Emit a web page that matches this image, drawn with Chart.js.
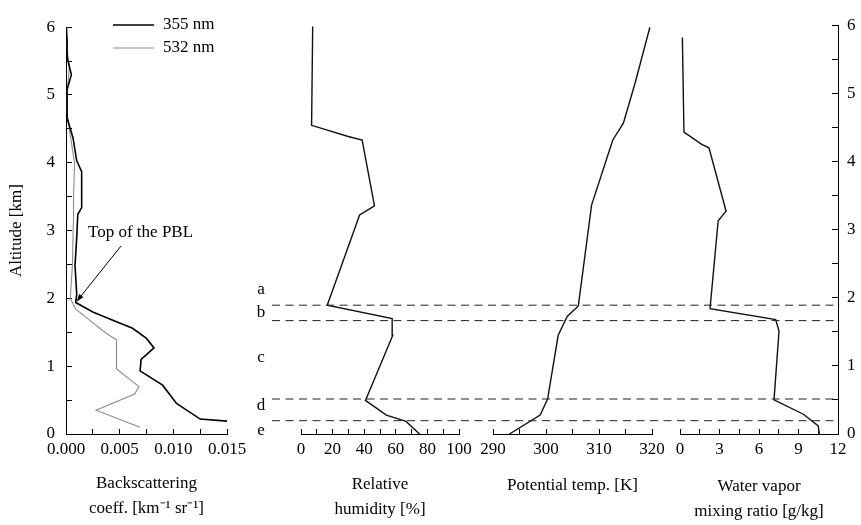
<!DOCTYPE html>
<html>
<head>
<meta charset="utf-8">
<title>Lidar and radiosonde profiles</title>
<script src="https://cdn.jsdelivr.net/npm/chart.js@4.4.1/dist/chart.umd.min.js"></script>
<style>
    body { margin: 0; background: #fff; }
    #wrap { position: relative; width: 861px; height: 525px; }
    #wrap canvas { position: absolute; left: 0; top: 0; }
</style>
</head>
<body>
<div id="wrap">
    <canvas id="bscChart" width="861" height="525"></canvas>
    <canvas id="rhChart" width="861" height="525"></canvas>
    <canvas id="ptChart" width="861" height="525"></canvas>
    <canvas id="wvChart" width="861" height="525"></canvas>
    <canvas id="layerChart" width="861" height="525"></canvas>
</div>
<script>
// Backscattering coefficient profiles (km^-1 sr^-1) vs altitude (km)
const bsc355Alt = [0.19, 0.22, 0.45, 0.72, 0.93, 1.1, 1.27, 1.41, 1.56, 1.68, 1.8, 1.94, 2.06, 2.49, 2.87, 3.24, 3.34, 3.87, 4.03, 4.37, 4.66, 4.9, 5.08, 5.3, 5.56, 5.8, 6.0];
const bsc355 = [0.015, 0.0125, 0.0103, 0.009, 0.0069, 0.007, 0.0082, 0.0075, 0.0062, 0.0043, 0.0025, 0.0009, 0.001, 0.00084, 0.00099, 0.0011, 0.00146, 0.00146, 0.001, 0.00065, 0.0001, 0.0001, 0.0001, 0.0005, 0.0001, 0.0001, 0.0];
const bsc532Alt = [0.1, 0.35, 0.59, 0.7, 0.96, 1.39, 1.49, 1.68, 1.84, 2.0, 2.5, 3.1, 3.5, 4.0, 4.4, 4.75, 5.0, 5.4, 5.7, 6.0];
const bsc532 = [0.0069, 0.0028, 0.0064, 0.0068, 0.0047, 0.0047, 0.0037, 0.0022, 0.0009, 0.0004, 0.0006, 0.00068, 0.0007, 0.0008, 0.0004, 0.0001, 0.0001, 0.0003, 0.0001, 0.0001];

// Radiosonde profiles
const rhAlt = [0, 0.18, 0.27, 0.48, 1.41, 1.65, 1.84, 3.13, 3.26, 4.2, 4.25, 4.41, 5.82];
const rh = [75, 66.5, 54, 40.8, 58.1, 57.7, 16.6, 37.1, 46.5, 38.7, 29.9, 6.7, 7.4];
const ptAlt = [0, 0.27, 0.5, 1.41, 1.68, 1.83, 3.27, 4.2, 4.44, 5.01, 5.81];
const pt = [293.1, 298.9, 300.3, 302.3, 304.0, 306.1, 308.6, 312.6, 314.6, 316.8, 319.6];
const wvAlt = [0, 0.12, 0.29, 0.5, 1.51, 1.68, 1.84, 3.13, 3.27, 4.2, 4.25, 4.43, 5.82];
const wv = [10.58, 10.5, 9.37, 7.14, 7.52, 7.27, 2.28, 2.9, 3.5, 2.2, 1.65, 0.3, 0.18];

// Layer boundaries (km) and layer names
const layerBounds = [1.84, 1.62, 0.5, 0.19];
const layerNames = ['a', 'b', 'c', 'd', 'e'];
const layerLabelAlt = [2.07, 1.74, 1.09, 0.4, 0.05];

const pblIndex = 11; // 355 nm point marked as top of the PBL

const FONT = '"Liberation Serif", "Times New Roman", serif';
const INK = '#000';

function toPoints(values, alts) {
    return values.map((v, i) => ({ x: v, y: alts[i] }));
}

function nearMultiple(v, step) {
    return Math.abs(v / step - Math.round(v / step)) < 1e-6;
}

function xAxis(min, max, step, labelStep, digits, title, titleBottom) {
    return {
        type: 'linear',
        min: min,
        max: max,
        afterFit: s => { s.height = 91; },
        border: { display: true, color: INK, width: 1 },
        grid: { drawOnChartArea: false, tickLength: -5, color: INK, lineWidth: 1 },
        ticks: {
            stepSize: step,
            autoSkip: false,
            maxRotation: 0,
            minRotation: 0,
            padding: 10,
            color: INK,
            font: { family: FONT, size: 17 },
            callback: v => nearMultiple(v, labelStep) ? v.toFixed(digits) : ''
        },
        title: {
            display: true,
            text: title,
            color: INK,
            font: { family: FONT, size: 17, lineHeight: '25px' },
            padding: { top: 0, bottom: titleBottom }
        }
    };
}

function yAxis(show, position, width, padding) {
    return {
        type: 'linear',
        display: show,
        position: position,
        min: 0,
        max: 6,
        afterFit: s => { s.width = width; },
        border: { display: true, color: INK, width: 1 },
        grid: { drawOnChartArea: false, tickLength: -6, color: INK, lineWidth: 1 },
        ticks: {
            stepSize: 0.5,
            autoSkip: false,
            padding: padding,
            color: INK,
            font: { family: FONT, size: 17 },
            callback: v => nearMultiple(v, 1) ? String(v) : ''
        }
    };
}

function profile(label, values, alts, color, width) {
    return {
        label: label,
        data: toPoints(values, alts),
        showLine: true,
        borderColor: color,
        backgroundColor: color,
        borderWidth: width,
        pointRadius: 0,
        tension: 0
    };
}

function baseOptions(padding, scales) {
    return {
        responsive: false,
        animation: false,
        layout: { padding: padding },
        plugins: { legend: { display: false }, tooltip: { enabled: false } },
        scales: scales
    };
}

// Legend and "Top of the PBL" note for the backscatter panel
const bscNotes = {
    id: 'bscNotes',
    afterDatasetsDraw(chart) {
        const ctx = chart.ctx;
        ctx.save();
        ctx.font = '17px ' + FONT;
        ctx.textBaseline = 'middle';
        chart.data.datasets.forEach((ds, i) => {
            const y = 25 + i * 23;
            ctx.strokeStyle = ds.borderColor;
            ctx.lineWidth = ds.borderWidth;
            ctx.beginPath();
            ctx.moveTo(113, y);
            ctx.lineTo(154, y);
            ctx.stroke();
            ctx.fillStyle = INK;
            ctx.fillText(ds.label, 163, y);
        });

        ctx.fillStyle = INK;
        ctx.fillText('Top of the PBL', 88, 233);

        // arrow towards the PBL top on the 355 nm profile
        const hx = chart.scales.x.getPixelForValue(bsc355[pblIndex]) + 1;
        const hy = chart.scales.y.getPixelForValue(bsc355Alt[pblIndex]) - 1;
        const tx = 121, ty = 246;
        const ang = Math.atan2(hy - ty, hx - tx);
        ctx.strokeStyle = INK;
        ctx.lineWidth = 1;
        ctx.beginPath();
        ctx.moveTo(tx, ty);
        ctx.lineTo(hx, hy);
        ctx.stroke();
        ctx.beginPath();
        ctx.moveTo(hx, hy);
        ctx.lineTo(hx - 8 * Math.cos(ang - 0.35), hy - 8 * Math.sin(ang - 0.35));
        ctx.lineTo(hx - 8 * Math.cos(ang + 0.35), hy - 8 * Math.sin(ang + 0.35));
        ctx.closePath();
        ctx.fill();
        ctx.restore();
    }
};

// Layer letters to the left of the dashed boundaries
const layerLetters = {
    id: 'layerLetters',
    afterDatasetsDraw(chart) {
        const ctx = chart.ctx;
        const y = chart.scales.y;
        ctx.save();
        ctx.font = '17px ' + FONT;
        ctx.fillStyle = INK;
        ctx.textAlign = 'center';
        ctx.textBaseline = 'middle';
        layerNames.forEach((n, i) => {
            ctx.fillText(n, chart.chartArea.left - 11, y.getPixelForValue(layerLabelAlt[i]));
        });
        ctx.restore();
    }
};

document.addEventListener('DOMContentLoaded', function() {
    // Backscattering coefficient
    const bscY = yAxis(true, 'left', 66, 17);
    bscY.title = {
        display: true,
        text: 'Altitude [km]',
        color: INK,
        font: { family: FONT, size: 17 },
        padding: { top: 6, bottom: 0 }
    };
    new Chart(document.getElementById('bscChart'), {
        type: 'scatter',
        data: {
            datasets: [
                profile('355 nm', bsc355, bsc355Alt, '#000000', 1.6),
                profile('532 nm', bsc532, bsc532Alt, '#8c8c8c', 1.1)
            ]
        },
        options: baseOptions({ left: 0, right: 634, top: 14, bottom: 0 }, {
            x: xAxis(0, 0.015, 0.0025, 0.005, 3, ['Backscattering', 'coeff. [km\u207B\u00B9 sr\u207B\u00B9]'], 4),
            y: bscY
        }),
        plugins: [bscNotes]
    });

    // Relative humidity
    new Chart(document.getElementById('rhChart'), {
        type: 'scatter',
        data: { datasets: [profile('RH', rh, rhAlt, '#111111', 1.4)] },
        options: baseOptions({ left: 301, right: 402, top: 14, bottom: 0 }, {
            x: xAxis(0, 100, 10, 20, 0, ['Relative', 'humidity [%]'], 3),
            y: yAxis(false, 'left', 0, 0)
        })
    });

    // Potential temperature
    new Chart(document.getElementById('ptChart'), {
        type: 'scatter',
        data: { datasets: [profile('Potential temp.', pt, ptAlt, '#111111', 1.4)] },
        options: baseOptions({ left: 493, right: 209, top: 14, bottom: 0 }, {
            x: xAxis(290, 320, 5, 10, 0, 'Potential temp. [K]', 27),
            y: yAxis(false, 'left', 0, 0)
        })
    });

    // Water vapor mixing ratio
    new Chart(document.getElementById('wvChart'), {
        type: 'scatter',
        data: { datasets: [profile('Water vapor', wv, wvAlt, '#111111', 1.4)] },
        options: baseOptions({ left: 680, right: 0, top: 14, bottom: 0 }, {
            x: xAxis(0, 12, 1.5, 3, 0, ['Water vapor', 'mixing ratio [g/kg]'], 1),
            y: yAxis(true, 'right', 23, 15)
        })
    });

    // Dashed layer boundaries across the sounding panels
    new Chart(document.getElementById('layerChart'), {
        type: 'scatter',
        data: {
            datasets: layerBounds.map(alt => ({
                data: [{ x: 0, y: alt }, { x: 1, y: alt }],
                showLine: true,
                borderColor: '#222222',
                borderWidth: 1,
                borderDash: [8, 5.5],
                pointRadius: 0
            }))
        },
        options: baseOptions({ left: 272, right: 27, top: 14, bottom: 91 }, {
            x: { type: 'linear', display: false, min: 0, max: 1 },
            y: { type: 'linear', display: false, min: 0, max: 6 }
        }),
        plugins: [layerLetters]
    });
});
</script>
</body>
</html>
